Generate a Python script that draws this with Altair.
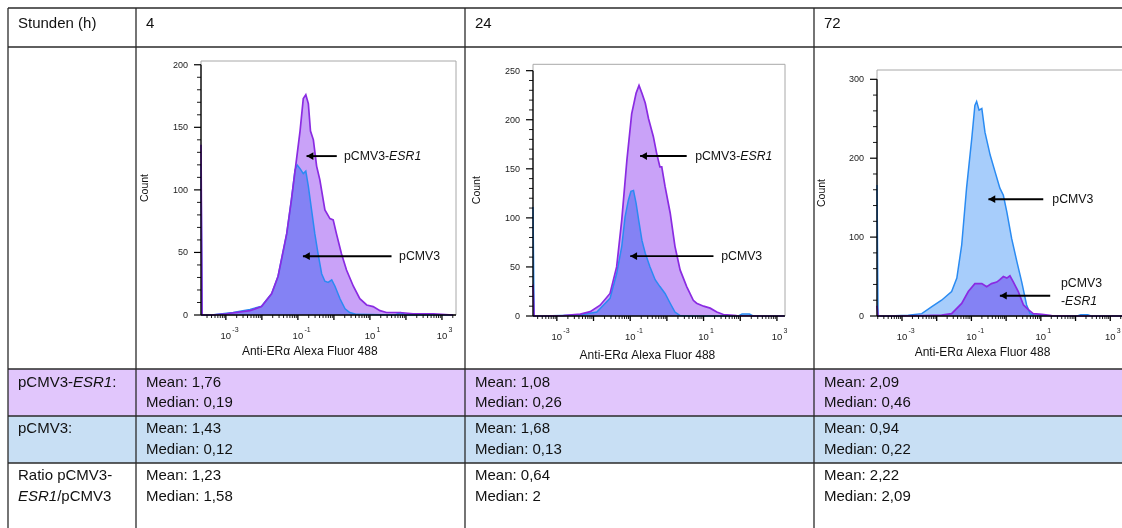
import math
import altair as alt
import pandas as pd

W, H = 1122, 528
FONT = "Liberation Sans"

# ---------------- table content ----------------
row_header = "Stunden (h)"
hours = ["4", "24", "72"]
esr1_mean = ["1,76", "1,08", "2,09"]
esr1_median = ["0,19", "0,26", "0,46"]
ctrl_mean = ["1,43", "1,68", "0,94"]
ctrl_median = ["0,12", "0,13", "0,22"]
ratio_mean = ["1,23", "0,64", "2,22"]
ratio_median = ["1,58", "2", "2,09"]

# ---------------- histogram data (x = log10 intensity, y = count) ----------------
h4_esr1_x = [-3.69, -3.66, -3.40, -2.98, -2.33, -2.01, -1.73, -1.55, -1.31, -1.18, -1.04, -0.94,
             -0.85, -0.78, -0.71, -0.65, -0.57, -0.48, -0.39, -0.25, -0.11, -0.02, 0.07, 0.21,
             0.35, 0.54, 0.72, 0.91, 1.09, 1.28, 1.46, 1.83, 2.20, 2.76, 3.31]
h4_esr1_y = [136, 0, 0, 1, 3.5, 6.7, 17, 31, 65, 92, 124, 147, 173, 176, 169, 147, 140, 119, 108,
             84, 77, 76, 65, 49, 36, 23, 13, 8, 6.7, 3.5, 2, 2, 1, 1, 0]
h4_ctrl_x = [-3.69, -3.66, -3.40, -2.80, -2.33, -2.01, -1.73, -1.55, -1.31, -1.18, -1.08, -1.02,
             -0.94, -0.85, -0.78, -0.71, -0.62, -0.53, -0.44, -0.34, -0.25, -0.16, -0.06, 0.03,
             0.17, 0.31, 0.44, 0.63, 1.70, 1.85, 2.00, 3.31]
h4_ctrl_y = [120, 0, 0, 2, 4.5, 7, 17, 31, 65, 92, 116, 120, 117, 113, 115, 103, 84, 65, 49, 33,
             27, 26, 28, 23, 13, 5, 2, 0.5, 0, 2, 0, 0]

h24_esr1_x = [-3.65, -3.62, -3.40, -2.82, -2.36, -2.09, -1.82, -1.55, -1.37, -1.23, -1.09, -0.96,
              -0.84, -0.76, -0.68, -0.59, -0.50, -0.37, -0.28, -0.19, -0.14, -0.05, 0.09, 0.22,
              0.36, 0.54, 0.72, 0.81, 1.00, 1.18, 1.36, 1.54, 1.90, 2.63, 3.20]
h24_esr1_y = [32, 0, 0, 0.5, 2, 4.4, 11, 23, 50, 98, 159, 206, 227, 235, 227, 217, 201, 183, 166,
              152, 152, 132, 105, 71, 47, 30, 16, 13, 10, 8, 4, 1.5, 0.5, 0, 0]
h24_ctrl_x = [-3.65, -3.62, -3.40, -2.36, -1.91, -1.55, -1.37, -1.23, -1.14, -1.05, -0.98, -0.91,
              -0.84, -0.77, -0.68, -0.59, -0.46, -0.32, -0.19, -0.05, 0.09, 0.22, 0.36, 0.63,
              1.95, 2.05, 2.25, 2.35, 3.20]
h24_ctrl_y = [111, 0, 0, 1, 4, 18, 43, 71, 101, 118, 127, 128, 115, 98, 77, 64, 50, 37, 30, 23,
              13, 4, 0.5, 0, 0, 2, 2, 0, 0]

h72_esr1_x = [-3.72, -3.69, -3.40, -2.34, -1.86, -1.57, -1.28, -1.09, -0.90, -0.70, -0.56, -0.42,
              -0.27, -0.18, -0.08, 0.02, 0.11, 0.21, 0.35, 0.50, 0.64, 0.78, 1.03, 1.31, 1.99, 3.50]
h72_esr1_y = [13, 0, 0, 0.5, 1, 3, 16, 31, 41, 41, 37, 41, 43, 46, 50, 48, 51, 43, 31, 14, 8, 3,
              2, 0.5, 0, 0]
h72_ctrl_x = [-3.72, -3.69, -3.40, -2.82, -2.43, -2.14, -1.86, -1.57, -1.42, -1.28, -1.14, -0.99,
              -0.90, -0.85, -0.78, -0.70, -0.61, -0.46, -0.32, -0.18, -0.08, 0.02, 0.16, 0.31,
              0.45, 0.59, 0.69, 0.83, 1.03, 2.05, 2.15, 2.35, 2.45, 3.50]
h72_ctrl_y = [166, 0, 0, 1, 3, 12, 20, 31, 48, 90, 162, 225, 267, 272, 261, 263, 233, 204, 183,
              162, 153, 132, 98, 69, 43, 14, 3, 1, 0.5, 0, 1.5, 1.5, 0, 0]

x_label_decades = [-3, -1, 1, 3]
x_label_exps = ["-3", "-1", "1", "3"]
x_title = "Anti-ERα Alexa Fluor 488"
y_title = "Count"
lbl_esr1_a, lbl_esr1_b, lbl_ctrl = "pCMV3-", "ESR1", "pCMV3"

# ---------------- styles / layout ----------------
PURPLE_FILL, PURPLE_LINE = "#c9a2f8", "#8a2be2"
BLUE_FILL, BLUE_LINE = "#a7cdfb", "#2a8bf2"
ROW_PURPLE, ROW_BLUE = "#e1c6fc", "#c8dff4"
GRID = "#2a2a2a"
COLS = [8, 136, 465, 814, 1140]
ROWS = [8, 47, 369, 416, 463, 560]
TFS = 15  # table font size

PANELS = [
    dict(xr=[201, 456], xd=[-3.69, 3.39], yr=[315, 61], yd=[0, 203], ymaj=50, ymin=10, ytop=200,
         tx=-0.67, tdy=40, cdy=-56),
    dict(xr=[533, 785], xd=[-3.65, 3.22], yr=[316, 64.3], yd=[0, 256.5], ymaj=50, ymin=10, ytop=250,
         tx=-0.53, tdy=43, cdy=-56),
    dict(xr=[877, 1129], xd=[-3.72, 3.54], yr=[316, 70], yd=[0, 311.8], ymaj=100, ymin=20, ytop=300,
         tx=-0.68, tdy=40, cdy=-55),
]
# annotation (arrow tail, arrow tip, y) and labels (x, y, normal, italic)
ANNS = [
    dict(arrows=[(0.08, -0.76, 127), (1.60, -0.86, 47)],
         labels=[(0.28, 127, lbl_esr1_a, lbl_esr1_b), (1.81, 47, lbl_ctrl, "")]),
    dict(arrows=[(0.54, -0.73, 163), (1.27, -1.00, 61)],
         labels=[(0.77, 163, lbl_esr1_a, lbl_esr1_b), (1.48, 61, lbl_ctrl, "")]),
    dict(arrows=[(1.07, -0.51, 148), (1.27, -0.18, 25.7)],
         labels=[(1.33, 148, lbl_ctrl, ""), (1.58, 41.8, lbl_ctrl, ""), (1.58, 19.4, "-", lbl_esr1_b)]),
]
EM_W = {"pCMV3-": 3.667, "-": 0.333, "pCMV3": 3.334, "ESR1": 2.612}
AFS = 12.3  # annotation font size

# ---------------- table layer ----------------
px_x = alt.Scale(domain=[0, W], range=[0, W], nice=False, zero=False)
px_y = alt.Scale(domain=[0, H], range=[0, H], nice=False, zero=False)
TX = alt.X("x:Q", scale=px_x, axis=None)
TY = alt.Y("y:Q", scale=px_y, axis=None)

bands = pd.DataFrame({"x": [COLS[0], COLS[0]], "x2": [COLS[-1], COLS[-1]],
                      "y": [ROWS[2], ROWS[3]], "y2": [ROWS[3], ROWS[4]],
                      "c": [ROW_PURPLE, ROW_BLUE]})
band_chart = alt.Chart(bands).mark_rect().encode(
    x=TX, x2="x2:Q", y=TY, y2="y2:Q", color=alt.Color("c:N", scale=None))

lines = [{"x": COLS[0], "x2": COLS[-1], "y": r, "y2": r} for r in ROWS[:-1]]
lines += [{"x": c, "x2": c, "y": ROWS[0], "y2": ROWS[-1]} for c in COLS[:-1]]
line_chart = alt.Chart(pd.DataFrame(lines)).mark_rule(color=GRID, strokeWidth=1.3).encode(
    x=TX, x2="x2:Q", y=TY, y2="y2:Q")

trows = []
def add(x, y, t, it=False):
    trows.append({"x": x, "y": y, "t": t, "it": it})

L = COLS[0] + 10
add(L, ROWS[0] + 20, row_header)
add(L, ROWS[2] + 17.5, "pCMV3-")
add(L + EM_W["pCMV3-"] * TFS, ROWS[2] + 17.5, "ESR1", True)
add(L + (EM_W["pCMV3-"] + EM_W["ESR1"]) * TFS, ROWS[2] + 17.5, ":")
add(L, ROWS[3] + 17, "pCMV3:")
add(L, ROWS[4] + 17, "Ratio pCMV3-")
add(L, ROWS[4] + 37.5, "ESR1", True)
add(L + EM_W["ESR1"] * TFS, ROWS[4] + 37.5, "/pCMV3")
for i in range(3):
    cx = COLS[i + 1] + 10
    add(cx, ROWS[0] + 20, hours[i])
    add(cx, ROWS[2] + 17.5, "Mean: " + esr1_mean[i])
    add(cx, ROWS[2] + 37.5, "Median: " + esr1_median[i])
    add(cx, ROWS[3] + 17, "Mean: " + ctrl_mean[i])
    add(cx, ROWS[3] + 37.5, "Median: " + ctrl_median[i])
    add(cx, ROWS[4] + 17, "Mean: " + ratio_mean[i])
    add(cx, ROWS[4] + 37.5, "Median: " + ratio_median[i])
tdf = pd.DataFrame(trows)
txt_norm = alt.Chart(tdf[~tdf.it]).mark_text(
    align="left", baseline="alphabetic", font=FONT, fontSize=TFS, color="#111").encode(
    x=TX, y=TY, text="t:N")
txt_it = alt.Chart(tdf[tdf.it]).mark_text(
    align="left", baseline="alphabetic", font=FONT, fontSize=TFS, fontStyle="italic",
    color="#111").encode(x=TX, y=TY, text="t:N")

table = alt.layer(band_chart, line_chart, txt_norm, txt_it)


# ---------------- histogram panels ----------------
def hist_panel(lay, ann, esr1, ctrl, esr1_first):
    xd0, xd1 = lay["xd"]
    yd0, yd1 = lay["yd"]
    xs = alt.Scale(domain=[xd0, xd1], range=lay["xr"], nice=False, zero=False)
    ys = alt.Scale(domain=[yd0, yd1], range=lay["yr"], nice=False, zero=False)

    def X(f):
        return alt.X(f + ":Q", scale=xs, axis=None)

    def Y(f):
        return alt.Y(f + ":Q", scale=ys, axis=None)

    frame = alt.Chart(pd.DataFrame({"a": [xd0], "b": [xd1], "c": [0], "d": [yd1]})).mark_rect(
        fill="white", stroke="#a8a8a8", strokeWidth=1).encode(x=X("a"), x2="b:Q", y=Y("c"), y2="d:Q")

    edf = pd.DataFrame({"x": esr1[0], "y": esr1[1], "b": 0})
    cdf = pd.DataFrame({"x": ctrl[0], "y": ctrl[1], "b": 0})
    if esr1_first:
        a1 = alt.Chart(edf).mark_area(color=PURPLE_FILL)
        a2 = alt.Chart(cdf).mark_area(color=BLUE_FILL, blend="multiply")
    else:
        a1 = alt.Chart(cdf).mark_area(color=BLUE_FILL)
        a2 = alt.Chart(edf).mark_area(color=PURPLE_FILL, blend="multiply")
    a1 = a1.encode(x=X("x"), y=Y("y"), y2="b:Q")
    a2 = a2.encode(x=X("x"), y=Y("y"), y2="b:Q")
    l_c = alt.Chart(cdf).mark_line(color=BLUE_LINE, strokeWidth=1.5).encode(x=X("x"), y=Y("y"))
    l_e = alt.Chart(edf).mark_line(color=PURPLE_LINE, strokeWidth=1.7).encode(x=X("x"), y=Y("y"))

    # axes drawn through the panel scales
    sx = alt.Chart(pd.DataFrame({"a": [xd0], "b": [xd1], "c": [0]})).mark_rule(
        color="black", strokeWidth=1.5).encode(x=X("a"), x2="b:Q", y=Y("c"))
    sy = alt.Chart(pd.DataFrame({"a": [xd0], "c": [0], "d": [lay["ytop"]]})).mark_rule(
        color="black", strokeWidth=1.3).encode(x=X("a"), y=Y("c"), y2="d:Q")

    majors = [k for k in range(-4, 4) if xd0 <= k <= xd1]
    minors = [k + math.log10(m) for k in range(-5, 4) for m in range(2, 10)
              if xd0 <= k + math.log10(m) <= xd1]
    xmaj = alt.Chart(pd.DataFrame({"v": majors, "c": 0})).mark_rule(
        color="black", strokeWidth=1.3, y2Offset=5).encode(x=X("v"), y=Y("c"), y2="c:Q")
    xmin = alt.Chart(pd.DataFrame({"v": minors, "c": 0})).mark_rule(
        color="black", strokeWidth=0.9, y2Offset=3).encode(x=X("v"), y=Y("c"), y2="c:Q")

    yvals_maj = list(range(0, lay["ytop"] + 1, lay["ymaj"]))
    yvals_min = [v for v in range(0, lay["ytop"] + 1, lay["ymin"]) if v % lay["ymaj"] != 0]
    ymaj = alt.Chart(pd.DataFrame({"v": yvals_maj, "a": xd0})).mark_rule(
        color="black", strokeWidth=1.2, x2Offset=-7).encode(x=X("a"), x2="a:Q", y=Y("v"))
    ymin = alt.Chart(pd.DataFrame({"v": yvals_min, "a": xd0})).mark_rule(
        color="black", strokeWidth=0.9, x2Offset=-4).encode(x=X("a"), x2="a:Q", y=Y("v"))
    ylab = alt.Chart(pd.DataFrame({"v": yvals_maj, "a": xd0, "t": [str(v) for v in yvals_maj]})).mark_text(
        align="right", baseline="middle", dx=-13, font=FONT, fontSize=9, color="#222").encode(
        x=X("a"), y=Y("v"), text="t:N")

    xl = pd.DataFrame({"v": x_label_decades, "c": 0, "e": x_label_exps, "t": "10"})
    xlab = alt.Chart(xl).mark_text(align="center", baseline="alphabetic", dy=23.5, font=FONT,
                                   fontSize=9.5, color="#222").encode(x=X("v"), y=Y("c"), text="t:N")
    xsup = alt.Chart(xl).mark_text(align="left", baseline="alphabetic", dx=6.5, dy=17, font=FONT,
                                   fontSize=7, color="#222").encode(x=X("v"), y=Y("c"), text="e:N")

    xt = alt.Chart(pd.DataFrame({"v": [lay["tx"]], "c": [0], "t": [x_title]})).mark_text(
        align="center", baseline="alphabetic", dy=lay["tdy"], font=FONT, fontSize=12,
        color="#111").encode(x=X("v"), y=Y("c"), text="t:N")
    yt = alt.Chart(pd.DataFrame({"a": [xd0], "c": [yd1 / 2], "t": [y_title]})).mark_text(
        align="center", baseline="middle", angle=270, dy=lay["cdy"], font=FONT, fontSize=10.5,
        color="#111").encode(x=X("a"), y=Y("c"), text="t:N")

    adf = pd.DataFrame([{"tail": a[0], "tip": a[1], "y": a[2]} for a in ann["arrows"]])
    arr = alt.Chart(adf).mark_rule(color="black", strokeWidth=1.9).encode(
        x=X("tail"), x2="tip:Q", y=Y("y"))
    head = alt.Chart(adf).mark_point(shape="triangle-left", filled=True, size=60, color="black",
                                     opacity=1, xOffset=3.5).encode(x=X("tip"), y=Y("y"))
    ln = pd.DataFrame([{"x": l[0], "y": l[1], "t": l[2]} for l in ann["labels"]])
    li = pd.DataFrame([{"x": l[0], "y": l[1], "t": l[3], "dx": EM_W[l[2]] * AFS}
                       for l in ann["labels"] if l[3]])
    tn = alt.Chart(ln).mark_text(align="left", baseline="middle", font=FONT, fontSize=AFS,
                                 color="#111").encode(x=X("x"), y=Y("y"), text="t:N")
    layers = [frame, a1, a2, l_c, l_e, sx, sy, xmaj, xmin, ymaj, ymin, ylab, xlab, xsup, xt, yt,
              arr, head, tn]
    for _, r in li.iterrows():
        layers.append(alt.Chart(pd.DataFrame([r])).mark_text(
            align="left", baseline="middle", dx=float(r["dx"]), font=FONT, fontSize=AFS,
            fontStyle="italic", color="#111").encode(x=X("x"), y=Y("y"), text="t:N"))
    return alt.layer(*layers)


p1 = hist_panel(PANELS[0], ANNS[0], (h4_esr1_x, h4_esr1_y), (h4_ctrl_x, h4_ctrl_y), True)
p2 = hist_panel(PANELS[1], ANNS[1], (h24_esr1_x, h24_esr1_y), (h24_ctrl_x, h24_ctrl_y), True)
p3 = hist_panel(PANELS[2], ANNS[2], (h72_esr1_x, h72_esr1_y), (h72_ctrl_x, h72_ctrl_y), False)

chart = alt.layer(table, p1, p2, p3).resolve_scale(x="independent", y="independent").properties(
    width=W, height=H, padding=0, autosize=alt.AutoSizeParams(type="none"), background="white"
).configure_view(strokeWidth=0)

chart.save("out.html", embed_options={"renderer": "svg", "actions": False})
